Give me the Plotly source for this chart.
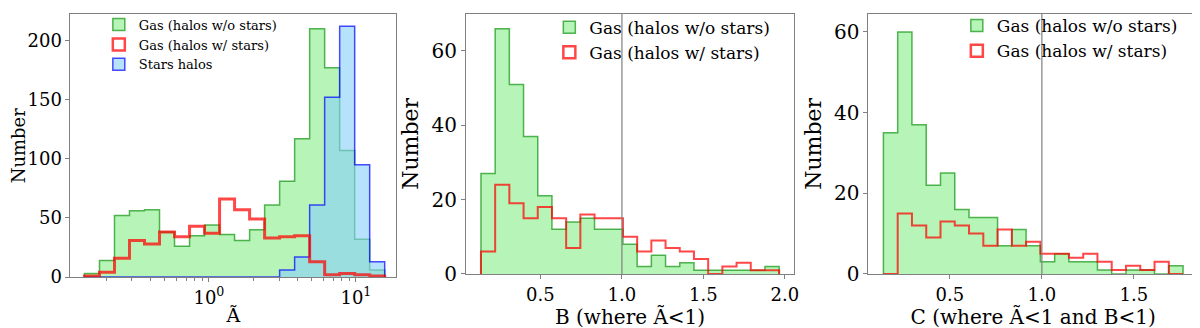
import numpy as np
import plotly.graph_objects as go

# bins
a_lo, a_hi, a_nbins = 0.1425, 15.7, 20
b_lo, b_hi, b_nbins = 0.135, 1.965, 21
c_lo, c_hi, c_nbins = 0.1396, 1.767, 21

# counts per bin
gas_nostars_A = [3, 14, 52, 56, 57, 38, 26, 35, 44, 36, 31, 40, 61, 81, 117, 210, 177, 107, 32, 6]
gas_stars_A = [1, 4, 16, 31, 28, 38, 34, 43, 37, 66, 57, 49, 33, 34, 35, 13, 2, 3, 2, 1]
stars_A = [0, 0, 0, 0, 0, 0, 0, 0, 0, 0, 0, 0, 0, 6, 17, 61, 152, 212, 95, 13]

gas_nostars_B = [27, 66, 51, 37, 21, 12, 14, 15, 12, 12, 8, 2, 5, 2, 3, 1, 1, 1, 1, 1, 2]
gas_stars_B = [6, 24, 19, 15, 18, 15, 7, 16, 15, 15, 10, 6, 9, 7, 6, 4, 0, 2, 3, 1, 1]

gas_nostars_C = [35, 60, 37, 22, 25, 16, 14, 14, 7, 11, 7, 3, 5, 3, 3, 1, 0, 1, 1, 0, 2]
gas_stars_C = [0, 15, 12, 9, 13, 12, 10, 7, 11, 7, 8, 5, 5, 4, 5, 3, 1, 2, 1, 3, 0]

log_ticks = [1, 10]
log_ticktext = ["10<sup>0</sup>", "10<sup>1</sup>"]

names = ["Gas (halos w/o stars)", "Gas (halos w/ stars)", "Stars halos"]

edges_A = np.logspace(np.log10(a_lo), np.log10(a_hi), a_nbins + 1)
edges_B = np.linspace(b_lo, b_hi, b_nbins + 1)
edges_C = np.linspace(c_lo, c_hi, c_nbins + 1)

FONT = "DejaVu Serif, serif"
GREEN_FILL = "rgba(144,238,144,0.65)"
GREEN_EDGE = "rgba(0,140,0,0.65)"
RED_EDGE = "rgba(255,0,0,0.72)"
BLUE_FILL = "rgba(135,206,250,0.6)"
BLUE_EDGE = "rgba(0,0,255,0.7)"
GRAY = "#808080"


def step(edges, counts):
    # matplotlib-like step outline: up at first edge, down at last edge
    x = [edges[0]] + list(edges)
    y = [0] + list(counts) + [0]
    return x, y


fig = go.Figure()


def add_hist(edges, counts, xa, ya, fill, edge, width):
    x, y = step(edges, counts)
    fig.add_trace(go.Scatter(
        x=x, y=y, xaxis=xa, yaxis=ya, mode="lines", line_shape="hv",
        line=dict(color=edge, width=width),
        fill="tozeroy" if fill else None, fillcolor=fill,
        showlegend=False, hoverinfo="skip"))


def add_key(name, legend, fill, edge, width):
    # legend-only patch
    fig.add_trace(go.Bar(
        x=[None], y=[None], name=name, legend=legend,
        marker=dict(color=fill, line=dict(color=edge, width=width))))


# panel 1
add_hist(edges_A, gas_nostars_A, "x", "y", GREEN_FILL, GREEN_EDGE, 1.5)
add_hist(edges_A, stars_A, "x", "y", BLUE_FILL, BLUE_EDGE, 1.5)
add_hist(edges_A, gas_stars_A, "x", "y", None, RED_EDGE, 3)
add_key(names[0], "legend", GREEN_FILL, GREEN_EDGE, 1.5)
add_key(names[1], "legend", "rgba(255,255,255,0)", RED_EDGE, 2.5)
add_key(names[2], "legend", BLUE_FILL, BLUE_EDGE, 1.5)

# panel 2
add_hist(edges_B, gas_nostars_B, "x2", "y2", GREEN_FILL, GREEN_EDGE, 1.5)
add_hist(edges_B, gas_stars_B, "x2", "y2", None, RED_EDGE, 2)
add_key(names[0], "legend2", GREEN_FILL, GREEN_EDGE, 1.5)
add_key(names[1], "legend2", "rgba(255,255,255,0)", RED_EDGE, 2.5)

# panel 3
add_hist(edges_C, gas_nostars_C, "x3", "y3", GREEN_FILL, GREEN_EDGE, 1.5)
add_hist(edges_C, gas_stars_C, "x3", "y3", None, RED_EDGE, 2)
add_key(names[0], "legend3", GREEN_FILL, GREEN_EDGE, 1.5)
add_key(names[1], "legend3", "rgba(255,255,255,0)", RED_EDGE, 2.5)

axis_common = dict(showline=True, linecolor=GRAY, linewidth=1, mirror=True,
                   ticks="outside", ticklen=4, tickcolor=GRAY, showgrid=False,
                   zeroline=False)


def f(size):
    return dict(family=FONT, size=size, color="black")


fig.update_layout(
    width=1200, height=328,
    margin=dict(l=0, r=0, t=0, b=0),
    paper_bgcolor="white", plot_bgcolor="white",
    font=dict(family=FONT, color="black"),
    barmode="overlay",
    xaxis=dict(domain=[0.0523, 0.325], anchor="y", type="log",
               range=[np.log10(0.1145), np.log10(18.85)],
               tickvals=log_ticks, ticktext=log_ticktext,
               tickfont=f(18),
               minor=dict(dtick="D1", ticks="outside", ticklen=2.5, tickcolor=GRAY),
               title=dict(text="Ã", font=f(19), standoff=2),
               **axis_common),
    yaxis=dict(domain=[0.1485, 0.9796], anchor="x", range=[0, 222],
               tickvals=[0, 50, 100, 150, 200], tickfont=f(18),
               title=dict(text="Number", font=f(18), standoff=6),
               **axis_common),
    xaxis2=dict(domain=[0.3833, 0.6578], anchor="y2", range=[0.0435, 2.0565],
                tickvals=[0.5, 1.0, 1.5, 2.0], tickformat=".1f",
                tickfont=f(18),
                title=dict(text="B (where Ã<1)", font=f(20), standoff=0),
                **axis_common),
    yaxis2=dict(domain=[0.1585, 0.9817], anchor="x2", range=[0, 70],
                tickvals=[0, 20, 40, 60], tickfont=f(20),
                title=dict(text="Number", font=f(22), standoff=6),
                **axis_common),
    xaxis3=dict(domain=[0.72, 0.9958], anchor="y3", range=[0.058, 1.848],
                tickvals=[0.5, 1.0, 1.5], tickformat=".1f",
                tickfont=f(18),
                title=dict(text="C (where Ã<1 and B<1)", font=f(20), standoff=0),
                **axis_common),
    yaxis3=dict(domain=[0.1585, 0.9817], anchor="x3", range=[0, 64.5],
                tickvals=[0, 20, 40, 60], tickfont=f(20),
                title=dict(text="Number", font=f(22), standoff=6),
                **axis_common),
    legend=dict(x=0.076, y=0.995, xanchor="left", yanchor="top",
                bgcolor="rgba(0,0,0,0)", font=f(13)),
    legend2=dict(x=0.453, y=0.995, xanchor="left", yanchor="top",
                 bgcolor="rgba(0,0,0,0)", font=f(17)),
    legend3=dict(x=0.794, y=1.0, xanchor="left", yanchor="top",
                 bgcolor="rgba(0,0,0,0)", font=f(17)),
)

# vertical reference lines at x = 1 (log axis needs log10 coordinate)
for xref, yref, xv in [("x", "y domain", 0), ("x2", "y2 domain", 1.0), ("x3", "y3 domain", 1.0)]:
    fig.add_shape(type="line", xref=xref, yref=yref, x0=xv, x1=xv, y0=0, y1=1,
                  line=dict(color="rgba(128,128,128,0.8)", width=1.5), layer="above")

fig.write_html("out.html")
